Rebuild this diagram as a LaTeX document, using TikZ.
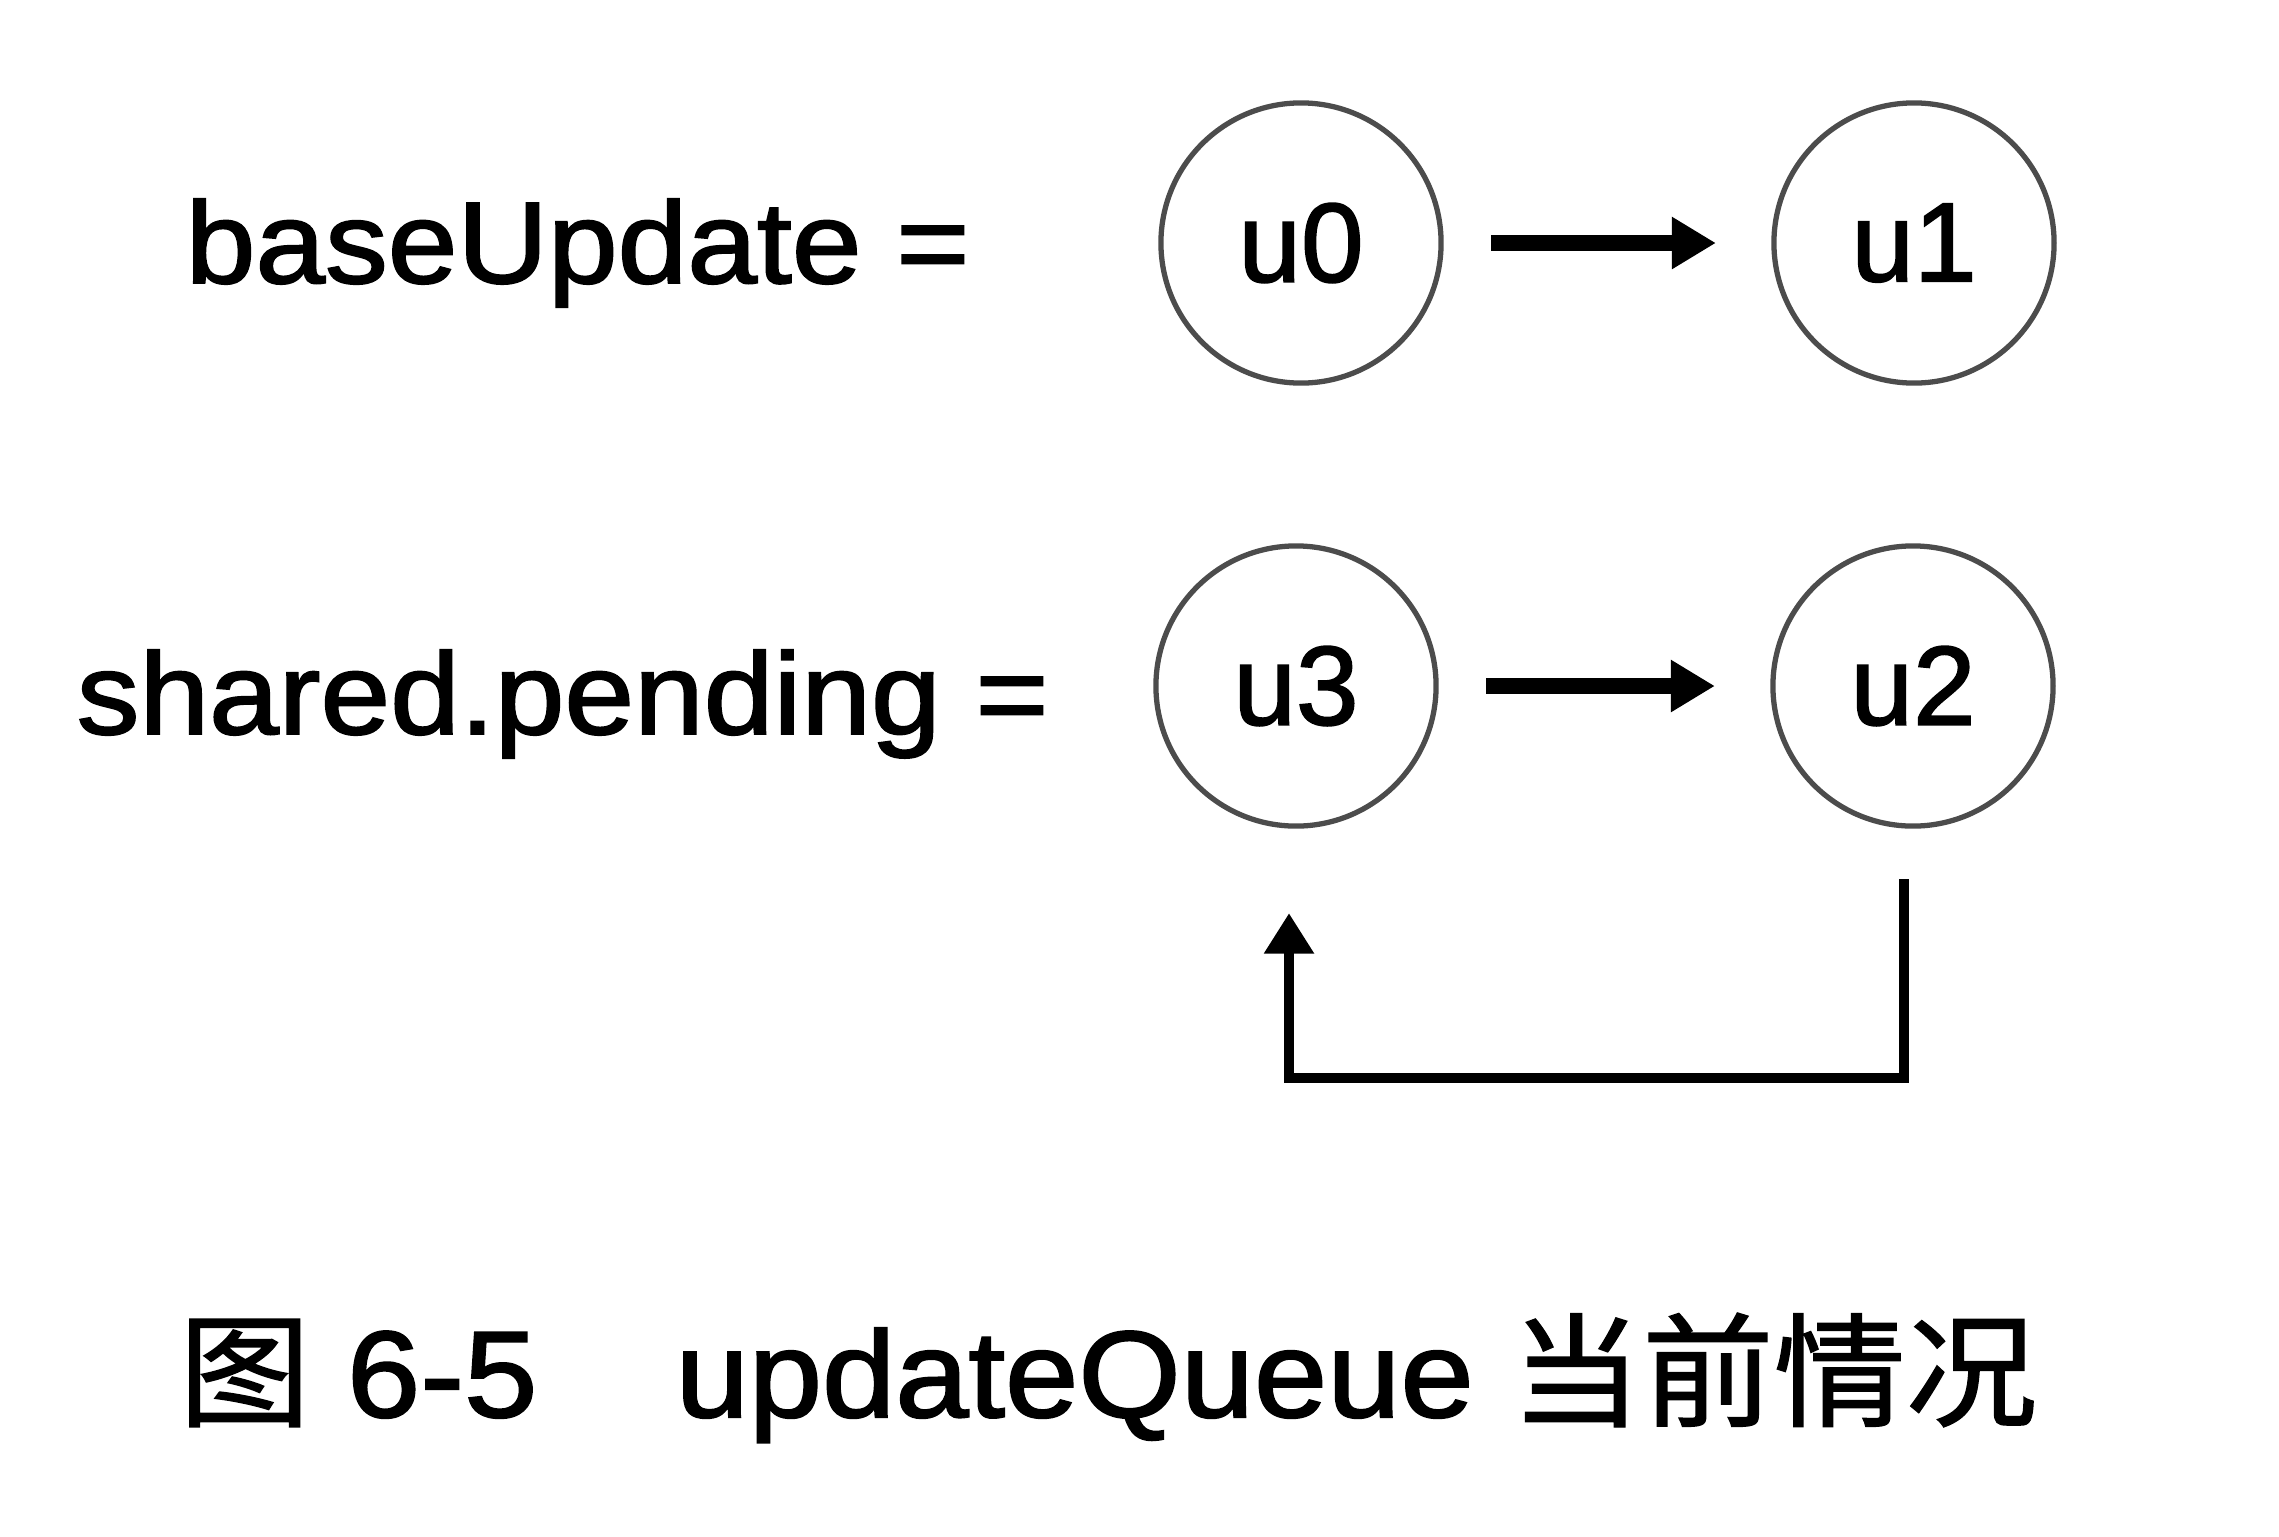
\documentclass[tikz,border=0pt]{standalone}
\usepackage{fontspec}
\setmainfont{Liberation Sans}[BoldFont=Liberation Sans,BoldFeatures={FakeBold=1.6}]
\newfontfamily\cjk{Noto Sans CJK SC}[BoldFont=Noto Sans CJK SC,BoldFeatures={FakeBold=1.2}]
\usetikzlibrary{arrows.meta}
\begin{document}
\begin{tikzpicture}[x=0.01cm,y=-0.01cm,
  unode/.style={circle,draw=black!70,line width=1.5pt,minimum size=2.8cm,inner sep=0pt,outer sep=0pt,font=\fontsize{32pt}{36pt}\selectfont\bfseries},
  lbl/.style={anchor=base west,inner sep=0pt,xscale=1.08,font=\fontsize{33pt}{38pt}\selectfont\bfseries},
  fwd/.style={line width=4.4pt,-{Triangle[length=12.5pt,width=14pt]},shorten <=0.5cm,shorten >=0.58cm},
  back/.style={line width=3pt,-{Triangle[length=11.5pt,width=13.5pt]}}]
\fill[white] (0,0) rectangle (2279,1536);
\useasboundingbox (0,0) rectangle (2279,1536);
\node[lbl] (lb1) at (185,283) {baseUpdate =};
\node[lbl] (lb2) at (76,734) {shared.pending =};
\node[unode] (u0) at (1301,243) {u0};
\node[unode] (u1) at (1914,243) {u1};
\node[unode] (u3) at (1296,686) {u3};
\node[unode] (u2) at (1913,686) {u2};
\draw[fwd] (u0) -- (u1);
\draw[fwd] (u3) -- (u2);
\draw[back] ([shift={(-9,53)}]u2.south) -- ++(0,199) -| ([shift={(-7,87)}]u3.south);
\node[anchor=base west,inner sep=0pt,xscale=1.07,font=\fontsize{35pt}{40pt}\selectfont\bfseries] (cap) at (178,1417)
  {{\cjk\bfseries 图} 6-5\hspace{1.05em}updateQueue {\cjk\bfseries 当前情况}};
\end{tikzpicture}
\end{document}
